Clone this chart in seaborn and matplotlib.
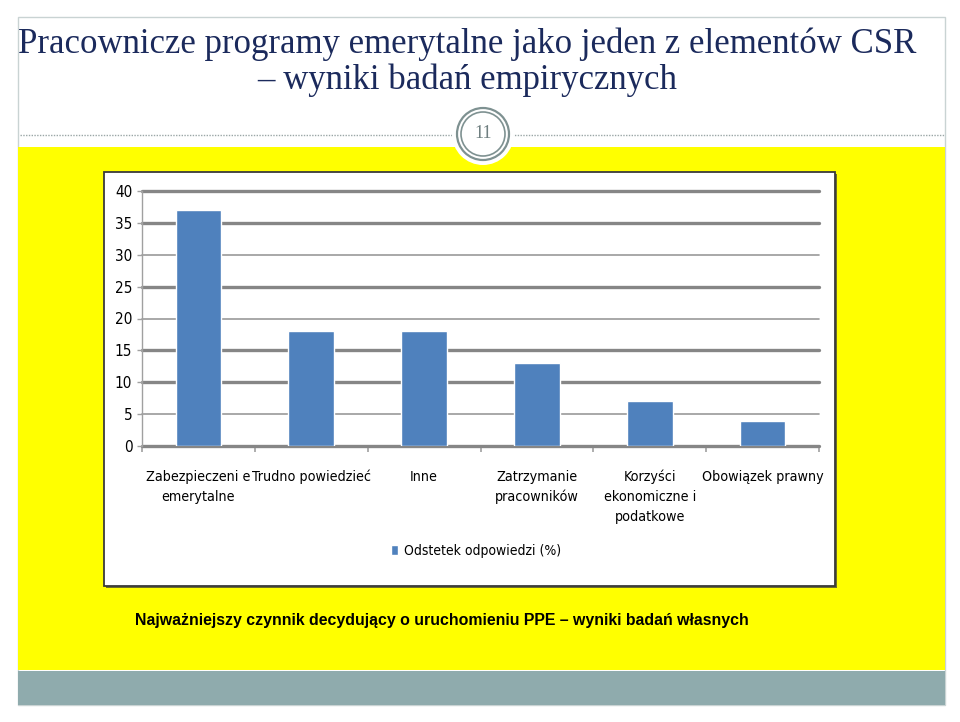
import numpy as np
import pandas as pd
import matplotlib
matplotlib.use("Agg")
import matplotlib.pyplot as plt
from matplotlib.patches import Rectangle, Ellipse
from matplotlib.lines import Line2D
import seaborn as sns

# ---- data ----
categories = [
    "Zabezpieczeni e\nemerytalne",
    "Trudno powiedzieć",
    "Inne",
    "Zatrzymanie\npracowników",
    "Korzyści\nekonomiczne i\npodatkowe",
    "Obowiązek prawny",
]
values = [37, 18, 18, 13, 7, 4]
series_label = "Odstetek odpowiedzi (%)"
y_ticks = [0, 5, 10, 15, 20, 25, 30, 35, 40]
title_line1 = "Pracownicze programy emerytalne jako jeden z elementów CSR"
title_line2 = "– wyniki badań empirycznych"
slide_number = "11"
caption = "Najważniejszy czynnik decydujący o uruchomieniu PPE – wyniki badań własnych"

df = pd.DataFrame({"kategoria": categories, "wartosc": values})

sns.set_theme(style="white")
plt.rcParams["font.family"] = ["DejaVu Sans"]
plt.rcParams["font.stretch"] = "condensed"

W, H = 960, 722
fig = plt.figure(figsize=(W / 100, H / 100), dpi=100)
fig.patch.set_facecolor("white")

def fx(px):
    return px / W

def fy(py):
    return 1 - py / H

# slide border
fig.patches.append(Rectangle((fx(18), fy(705)), fx(945) - fx(18), fy(17) - fy(705),
                             transform=fig.transFigure, facecolor="white",
                             edgecolor="#C9D3D3", lw=1.0, zorder=0))
# yellow region
fig.patches.append(Rectangle((fx(18), fy(670)), fx(945) - fx(18), fy(147) - fy(670),
                             transform=fig.transFigure, facecolor="#FFFF00",
                             edgecolor="none", zorder=1))
# bottom teal band
fig.patches.append(Rectangle((fx(18), fy(705)), fx(945) - fx(18), fy(671) - fy(705),
                             transform=fig.transFigure, facecolor="#8FABAD",
                             edgecolor="none", zorder=1))
# dotted separator
fig.lines.append(Line2D([fx(20), fx(945)], [fy(135), fy(135)], transform=fig.transFigure,
                        color="#9AA6A6", lw=1.0, ls=(0, (1, 1)), zorder=2))
# slide number badge
def circ(cx, cy, r, **kw):
    return Ellipse((fx(cx), fy(cy)), 2 * r / W, 2 * r / H, transform=fig.transFigure, **kw)

fig.patches.append(circ(483, 134, 31, facecolor="white", edgecolor="none", zorder=3))
fig.patches.append(circ(483, 134, 26, facecolor="white", edgecolor="#7E9191", lw=1.6, zorder=4))
fig.patches.append(circ(483, 134, 22, facecolor="none", edgecolor="#7E9191", lw=1.2, zorder=5))
fig.text(fx(483), fy(134), slide_number, ha="center", va="center", fontsize=13,
         color="#6F7F80", family=["Liberation Serif", "DejaVu Serif"],
         fontstretch="normal", zorder=6)

# titles
title_kw = dict(ha="center", va="center", fontsize=25, color="#1B2A5C",
                family=["Liberation Serif", "DejaVu Serif"], fontstretch="normal")
fig.text(fx(467), fy(44), title_line1, **title_kw)
fig.text(fx(467), fy(80), title_line2, **title_kw)

# chart box (with slight shadow)
fig.patches.append(Rectangle((fx(106), fy(588)), fx(835) - fx(104), fy(172) - fy(586),
                             transform=fig.transFigure, facecolor="#6E6E2A",
                             edgecolor="none", zorder=2))
fig.patches.append(Rectangle((fx(104), fy(586)), fx(835) - fx(104), fy(172) - fy(586),
                             transform=fig.transFigure, facecolor="white",
                             edgecolor="#3A3A3A", lw=1.3, zorder=2))

# caption
fig.text(fx(135), fy(620), caption, ha="left", va="center", fontsize=11.4, fontweight="bold",
         color="black", family=["Liberation Sans", "DejaVu Sans"], fontstretch="normal")

# ---- bar chart ----
ax = fig.add_axes([fx(142), fy(446), fx(819) - fx(142), fy(191) - fy(446)], zorder=5)
ax.set_facecolor("none")
sns.barplot(data=df, x="kategoria", y="wartosc", color="#4F81BD", width=0.405,
            saturation=1, label=series_label, ax=ax, zorder=3)
ax.set_ylim(0, 40)
ax.set_xlim(-0.5, len(categories) - 0.5)
ax.set_yticks(y_ticks)
ax.set_xlabel("")
ax.set_ylabel("")
ax.yaxis.grid(True, color="#868686", lw=2.4)
ax.set_axisbelow(True)
for val, gl in zip(y_ticks, ax.get_ygridlines()):
    gl.set_clip_on(False)
    if val in (5, 20, 30):
        gl.set_linewidth(1.2)
        gl.set_color("#9A9A9A")
for s in ["top", "right", "bottom"]:
    ax.spines[s].set_visible(False)
ax.spines["left"].set_color("#A0A0A0")
ax.spines["left"].set_linewidth(1.0)
ax.tick_params(axis="y", length=3.5, color="#A0A0A0", width=1, left=True, pad=3.5,
               labelsize=11, labelcolor="black")
ax.tick_params(axis="x", which="major", length=0, pad=17, labelsize=10.3, labelcolor="black")
ax.set_xticks(np.arange(-0.5, len(categories), 1.0), minor=True)
ax.tick_params(axis="x", which="minor", length=4, color="#A0A0A0", width=1.2, bottom=True)
for t in ax.get_xticklabels():
    t.set_linespacing(1.55)
    t.set_va("top")

leg = ax.legend(loc="center", bbox_to_anchor=(fx(476), fy(551)), bbox_transform=fig.transFigure,
                frameon=False, fontsize=10, handlelength=0.5, handleheight=0.8,
                handletextpad=0.4)
for txt in leg.get_texts():
    txt.set_color("black")

fig.savefig("out.png", dpi=100)
